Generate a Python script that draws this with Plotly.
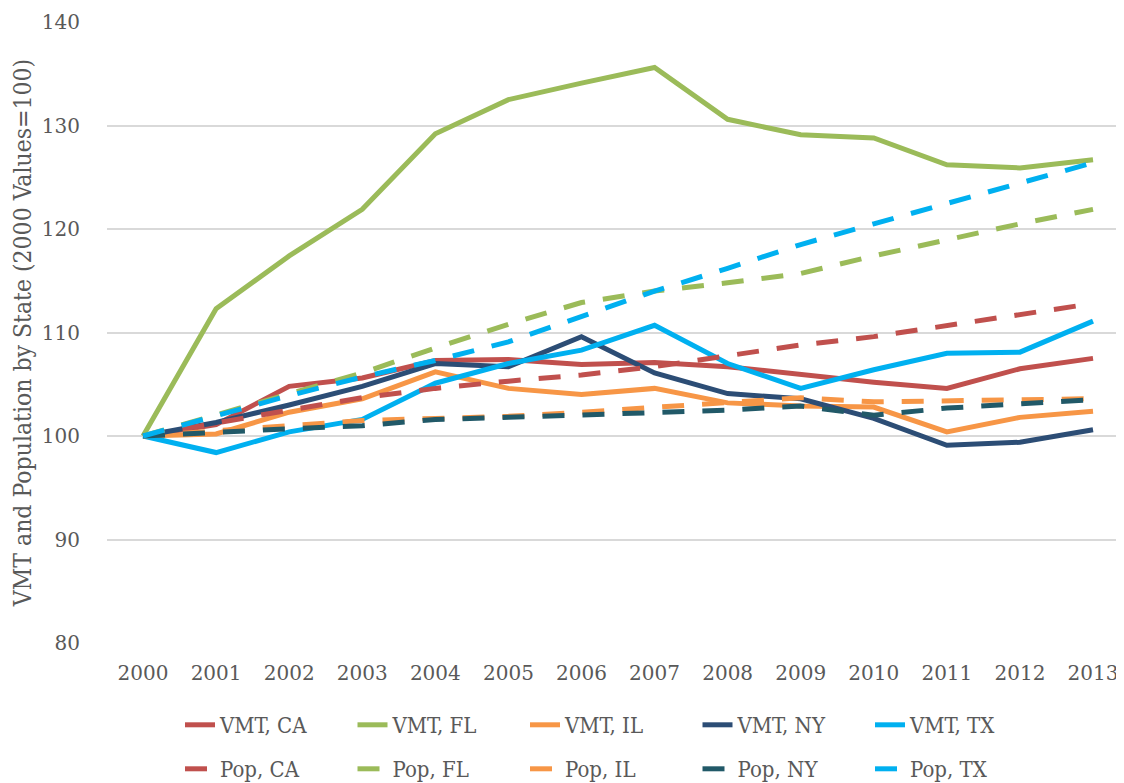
import plotly.graph_objects as go

years = list(range(2000, 2014))
y_ticks = [80, 90, 100, 110, 120, 130, 140]

vmt_ca = [100, 101.1, 104.8, 105.6, 107.3, 107.4, 106.9, 107.1, 106.7, 105.9, 105.2, 104.6, 106.5, 107.5]
vmt_fl = [100, 112.3, 117.4, 121.9, 129.2, 132.5, 134.1, 135.6, 130.6, 129.1, 128.8, 126.2, 125.9, 126.7]
vmt_il = [100, 100.2, 102.3, 103.6, 106.2, 104.6, 104.0, 104.6, 103.2, 102.9, 102.8, 100.4, 101.8, 102.4]
vmt_ny = [100, 101.3, 103.0, 104.8, 107.0, 106.7, 109.6, 106.1, 104.1, 103.6, 101.7, 99.1, 99.4, 100.6]
vmt_tx = [100, 98.4, 100.4, 101.6, 105.1, 107.0, 108.3, 110.7, 107.0, 104.6, 106.4, 108.0, 108.1, 111.1]

pop_ca = [100, 101.3, 102.5, 103.7, 104.6, 105.3, 105.9, 106.7, 107.7, 108.8, 109.6, 110.7, 111.8, 112.8]
pop_fl = [100, 102.0, 104.0, 106.1, 108.5, 110.8, 112.9, 114.0, 114.8, 115.7, 117.4, 119.0, 120.5, 121.9]
pop_il = [100, 100.5, 101.0, 101.5, 101.7, 101.9, 102.3, 102.8, 103.2, 103.7, 103.3, 103.4, 103.5, 103.6]
pop_ny = [100, 100.4, 100.7, 101.0, 101.6, 101.8, 102.0, 102.3, 102.5, 102.9, 102.0, 102.7, 103.1, 103.5]
pop_tx = [100, 102.0, 103.9, 105.7, 107.3, 109.1, 111.6, 114.0, 116.2, 118.5, 120.5, 122.5, 124.5, 126.4]

series = [
    ("VMT, CA", vmt_ca, "#C0504D", "solid", "legend"),
    ("VMT, FL", vmt_fl, "#9BBB59", "solid", "legend"),
    ("VMT, IL", vmt_il, "#F79646", "solid", "legend"),
    ("VMT, NY", vmt_ny, "#2C4D75", "solid", "legend"),
    ("VMT, TX", vmt_tx, "#00B0F0", "solid", "legend"),
    ("Pop, CA", pop_ca, "#C0504D", "22px,18px", "legend2"),
    ("Pop, FL", pop_fl, "#9BBB59", "22px,18px", "legend2"),
    ("Pop, IL", pop_il, "#F79646", "22px,18px", "legend2"),
    ("Pop, NY", pop_ny, "#215968", "22px,18px", "legend2"),
    ("Pop, TX", pop_tx, "#00B0F0", "22px,18px", "legend2"),
]

fig = go.Figure()
for name, vals, color, dash, leg in series:
    fig.add_trace(go.Scatter(
        x=years, y=vals, name=name, mode="lines",
        line=dict(color=color, width=5, dash=dash),
        legend=leg,
    ))

W, H = 1116, 775  # page body has an 8px default margin

tick_font = dict(family="DejaVu Serif", size=20, color="#595959")
legend_font = dict(family="DejaVu Serif Condensed, DejaVu Serif", size=22, color="#595959")
title_font = dict(family="DejaVu Serif Condensed, DejaVu Serif", size=24.5, color="#595959")

legend_common = dict(
    orientation="h", xref="container", yref="container",
    xanchor="left", yanchor="middle",
    entrywidth=127.5, entrywidthmode="pixels",
    font=legend_font, bgcolor="rgba(0,0,0,0)", borderwidth=0,
    tracegroupgap=0, itemwidth=30,
)

fig.update_layout(
    width=W, height=H,
    margin=dict(l=99, r=0, t=14, b=140),
    paper_bgcolor="white", plot_bgcolor="white",
    showlegend=True,
    legend=dict(x=172 / W, y=1 - 717 / H, **legend_common),
    legend2=dict(x=172 / W, y=1 - 761 / H, **legend_common),
    xaxis=dict(
        range=[1999.507, 2013.424], tickmode="array", tickvals=years,
        ticktext=[str(y) for y in years], showgrid=False, zeroline=False,
        ticks="outside", ticklen=12, tickcolor="rgba(0,0,0,0)",
        tickfont=tick_font, showline=False,
    ),
    yaxis=dict(
        range=[80, 140], tickmode="array", tickvals=y_ticks,
        showgrid=True, gridcolor="#D9D9D9", gridwidth=1.5, zeroline=False,
        ticks="outside", ticklen=22, tickcolor="rgba(0,0,0,0)",
        tickfont=tick_font, showline=False,
        title=dict(text="VMT and Population by State (2000 Values=100)",
                   font=title_font, standoff=6),
        automargin=False,
    ),
)

fig.write_html("out.html")
